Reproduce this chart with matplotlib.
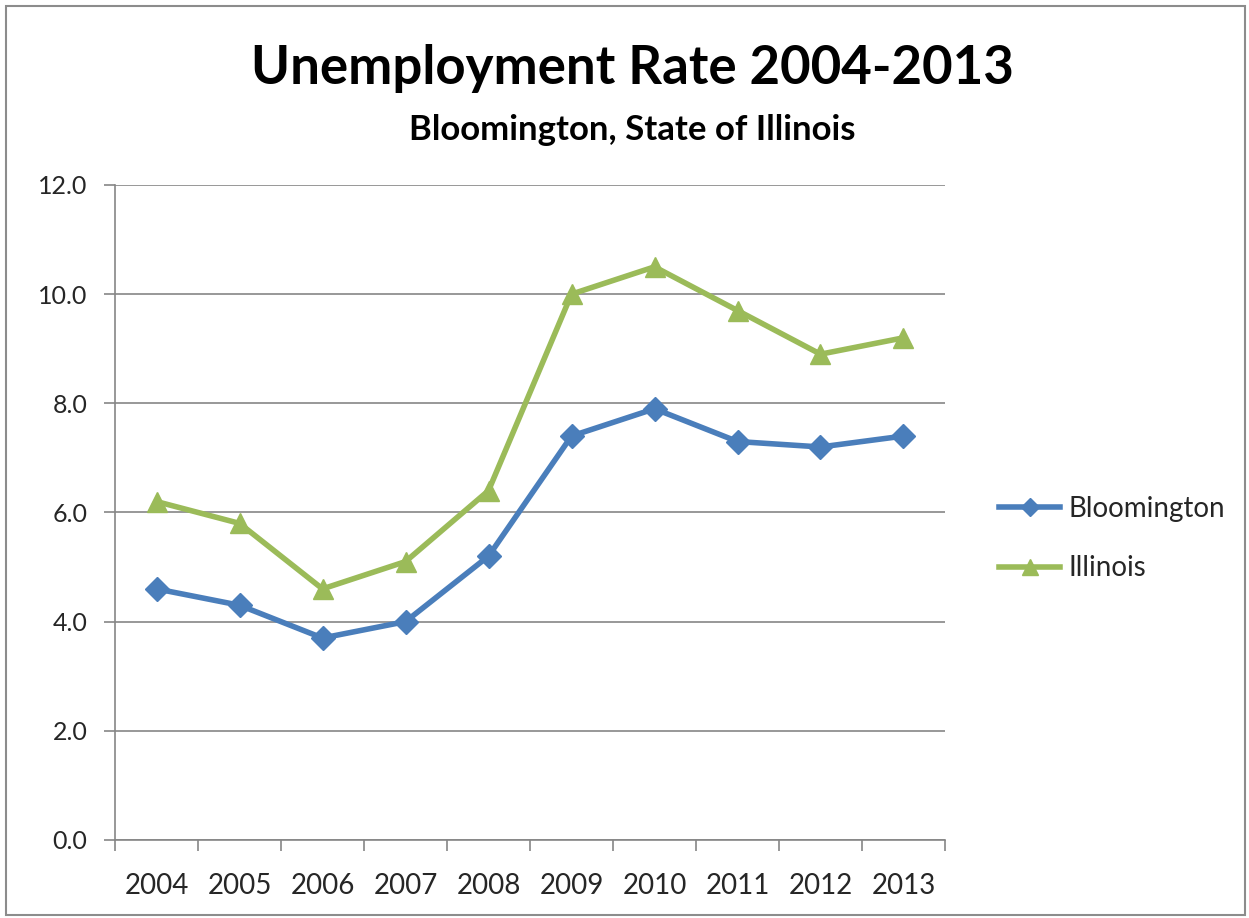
"""Unemployment rate line chart, Bloomington vs. State of Illinois, 2004-2013."""

import matplotlib

matplotlib.use("Agg")
import matplotlib.pyplot as plt  # noqa: E402
import numpy as np  # noqa: E402
from matplotlib.patches import Rectangle  # noqa: E402

years = ["2004", "2005", "2006", "2007", "2008", "2009", "2010", "2011", "2012", "2013"]
bloomington = [4.6, 4.3, 3.7, 4.0, 5.2, 7.4, 7.9, 7.3, 7.2, 7.4]
illinois = [6.2, 5.8, 4.6, 5.1, 6.4, 10.0, 10.5, 9.7, 8.9, 9.2]
y_ticks = [0.0, 2.0, 4.0, 6.0, 8.0, 10.0, 12.0]

BLUE = "#4a7ebb"
GREEN = "#9bbb59"
GRID = "#868686"
TEXT = "#262626"

plt.rcParams["font.family"] = ["Lato", "DejaVu Sans"]

fig = plt.figure(figsize=(12.49, 9.18), dpi=100)
fig.patches.append(Rectangle((0.005, 0.003), 0.992, 0.991, transform=fig.transFigure,
                             fill=False, edgecolor="#8c8c8c", linewidth=1.5))

ax = fig.add_axes([0.0921, 0.085, 0.6645, 0.7135])
x = np.arange(len(years))

ax.plot(x, bloomington, color=BLUE, lw=4, marker="D", ms=12, label="Bloomington", zorder=3)
ax.plot(x, illinois, color=GREEN, lw=4, marker="^", ms=15, label="Illinois", zorder=3)

ax.set_xlim(-0.5, len(years) - 0.5)
ax.set_ylim(0, 12)
ax.set_yticks(y_ticks)
ax.set_yticklabels([f"{v:.1f}" for v in y_ticks])
ax.set_xticks(x)
ax.set_xticklabels(years)
ax.set_xticks(np.arange(-0.5, len(years)), minor=True)

ax.grid(axis="y", color=GRID, lw=1.2)
for side in ("top", "right"):
    ax.spines[side].set_visible(False)
for side in ("left", "bottom"):
    ax.spines[side].set_color(GRID)
    ax.spines[side].set_linewidth(1.2)

ax.tick_params(axis="y", length=8, width=1.2, color=GRID, labelsize=18, labelcolor=TEXT, pad=12)
ax.tick_params(axis="x", which="major", length=0, labelsize=20, labelcolor=TEXT, pad=24)
ax.tick_params(axis="x", which="minor", length=8, width=1.2, color=GRID)

fig.text(0.506, 0.925, "Unemployment Rate 2004-2013", ha="center", va="center",
         fontsize=38, fontweight="bold", color="black")
fig.text(0.506, 0.858, "Bloomington, State of Illinois", ha="center", va="center",
         fontsize=25, fontweight="bold", color="black")

ax.legend(loc="center left", bbox_to_anchor=(1.035, 0.46), frameon=False, fontsize=20,
          handlelength=2.2, labelspacing=1.2, handletextpad=0.3, labelcolor=TEXT,
          markerscale=0.8)

fig.savefig("out.png", dpi=100)
